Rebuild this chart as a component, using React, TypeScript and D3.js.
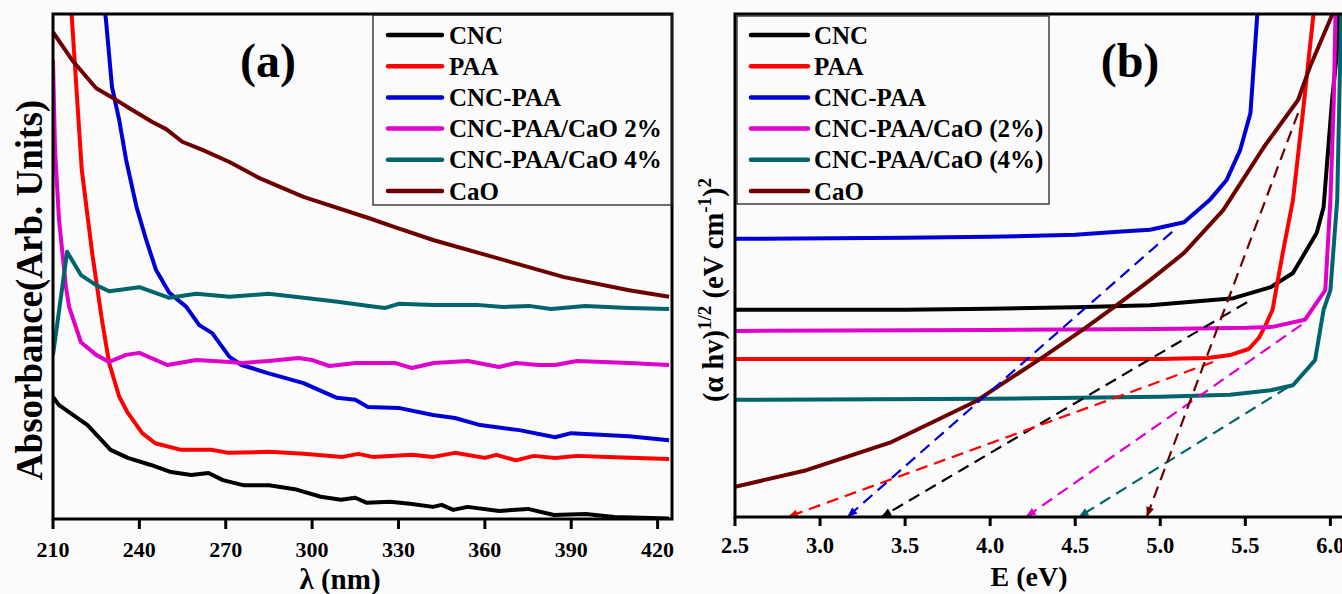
import React from 'react';
import * as d3 from 'd3';

type Pt = [number, number];

// legend labels and colours (same order in both panels)
const namesA = ['CNC', 'PAA', 'CNC-PAA', 'CNC-PAA/CaO 2%', 'CNC-PAA/CaO 4%', 'CaO'];
const namesB = ['CNC', 'PAA', 'CNC-PAA', 'CNC-PAA/CaO (2%)', 'CNC-PAA/CaO (4%)', 'CaO'];
const colors = ['#000000', '#ff0000', '#0000d6', '#e000cc', '#00646c', '#6e0000'];

const wlTicks = [210, 240, 270, 300, 330, 360, 390, 420];
const eTicks = [2.5, 3.0, 3.5, 4.0, 4.5, 5.0, 5.5, 6.0];

// (a) absorbance (arb. units) vs wavelength (nm)
const absCNC: Pt[] = [[210, 24.2], [212, 22.6], [222, 18.6], [230, 13.7], [236, 12.1], [244, 10.7], [251, 9.3], [258, 8.7], [264, 9.1], [269, 7.7], [276, 6.7], [285, 6.7], [294, 5.9], [303, 4.4], [310, 3.8], [315, 4.2], [319, 3.2], [327, 3.4], [334, 3.0], [342, 2.4], [345, 2.8], [349, 1.8], [354, 2.4], [365, 1.6], [375, 2.0], [384, 0.8], [395, 1.0], [405, 0.4], [424, 0.1]];
const absPAA: Pt[] = [[215, 112], [216.6, 98.8], [220, 69.1], [223.6, 52.7], [227, 39.4], [229.5, 30.9], [233, 24.2], [236, 21], [241, 17], [245.5, 15], [254.5, 13.7], [265, 13.7], [271, 13.1], [285, 13.3], [297, 12.9], [310.6, 12.3], [316, 12.9], [321, 12.3], [334.6, 12.7], [342, 12.3], [349.6, 13.1], [360, 12.1], [364, 12.7], [370.8, 11.6], [377, 12.5], [384.4, 12.1], [392, 12.5], [402.5, 12.3], [424, 11.9]];
const absCNCPAA: Pt[] = [[227, 105], [228.4, 98.8], [230.5, 85.5], [233, 79], [235.4, 71.1], [239, 61.8], [242.4, 55.2], [245.8, 49.3], [250.4, 44.8], [256.3, 42], [260.8, 38.4], [265.3, 36.8], [271.3, 32.1], [275.5, 30.5], [284.6, 28.9], [297, 26.9], [308.6, 24], [315, 23.6], [319.4, 22.2], [330, 22], [342, 20.6], [349.6, 20], [358.4, 18.6], [372, 17.6], [384.4, 16.2], [390, 17], [410, 16.4], [424, 15.6]];
const absCaO2: Pt[] = [[210, 90.9], [210.7, 73.1], [212.1, 59.2], [214.5, 45.9], [215.6, 42], [219.7, 35], [225, 32.5], [229.5, 31.1], [235.4, 32.5], [240, 32.9], [249.7, 30.5], [259.8, 31.5], [271.3, 31.1], [275.8, 30.9], [284.8, 31.3], [295.3, 31.9], [299.8, 31.5], [306, 30.3], [315.1, 30.9], [328.7, 30.9], [334.6, 29.9], [342.3, 30.9], [354.1, 31.3], [364.9, 30.1], [370.8, 30.9], [378.5, 30.5], [384.4, 30.5], [392, 31.3], [410.1, 30.9], [424, 30.5]];
const absCaO4: Pt[] = [[210, 32.5], [214.9, 52.9], [219.7, 48.3], [225, 46.3], [229.5, 45.1], [240, 45.9], [250.4, 43.8], [259.8, 44.6], [271.3, 44], [284.8, 44.6], [297, 43.8], [308.8, 43], [322.4, 42], [325.5, 41.8], [330, 42.6], [342.3, 42.4], [357.2, 42.4], [366.3, 42], [375.3, 42.2], [383, 41.6], [394.8, 42.2], [410.1, 41.8], [424, 41.6]];
const absCaO: Pt[] = [[210, 96.4], [216.6, 90.9], [225, 85.3], [231.9, 83], [236.4, 81.4], [244.5, 78.6], [249.3, 77.2], [254.9, 74.7], [261.9, 73.1], [271.3, 70.7], [281.7, 67.5], [297, 63.8], [319.6, 59.6], [328.7, 57.8], [342.3, 55.2], [360.3, 52.3], [387.5, 47.9], [410.1, 45.3], [424, 44]];

// (b) Tauc plot, (alpha h v)^(1/2) in arb. units vs photon energy (eV)
const taucCNC: Pt[] = [[2.5, 41.2], [3.5, 41.2], [4.0, 41.4], [4.5, 41.7], [4.94, 42.1], [5.43, 43.5], [5.65, 45.7], [5.78, 48.5], [5.92, 56.5], [5.96, 61.6], [6.01, 82.9], [6.04, 92.8], [6.06, 106.8]];
const taucPAA: Pt[] = [[2.5, 31.4], [5.0, 31.4], [5.28, 31.6], [5.41, 32.2], [5.52, 33.4], [5.58, 35.6], [5.62, 38.2], [5.66, 41.2], [5.72, 52.5], [5.78, 63], [5.84, 80.9], [5.9, 99.8], [5.92, 106.8]];
const taucCNCPAA: Pt[] = [[2.5, 55.3], [3.5, 55.5], [4.0, 55.7], [4.5, 56.1], [4.75, 56.7], [4.94, 57.1], [5.14, 58.6], [5.29, 63], [5.39, 67], [5.47, 73], [5.53, 80.3], [5.57, 99.8], [5.58, 106.8]];
const taucCaO2: Pt[] = [[2.5, 37], [4.0, 37.2], [5.0, 37.4], [5.51, 37.6], [5.66, 37.8], [5.85, 39.2], [5.97, 45.1], [6.0, 63], [6.02, 82.9], [6.03, 100], [6.04, 106.8]];
const taucCaO4: Pt[] = [[2.5, 23.3], [4.0, 23.5], [5.0, 23.9], [5.41, 24.3], [5.65, 25.2], [5.78, 26.2], [5.91, 31.2], [5.96, 41.2], [6.0, 45.1], [6.04, 63], [6.06, 94.8], [6.07, 106.8]];
const taucCaO: Pt[] = [[2.5, 6], [2.92, 9.3], [3.42, 14.9], [3.91, 22.9], [4.31, 31.8], [4.56, 37.6], [4.76, 42.5], [4.94, 47.1], [5.14, 52.5], [5.37, 61], [5.61, 73.6], [5.81, 82.9], [5.88, 89.5], [6.01, 99.8], [6.03, 104.8]];

// band-gap extrapolation lines: start point on the curve and intercept on E axis
const fitStartE = [5.51, 5.31, 5.07, 5.83, 5.75, 5.81];
const fitStartY = [42.7, 30.8, 56.7, 38.2, 25.8, 80.3];
const bandGap = [3.36, 2.81, 3.16, 4.21, 4.52, 4.92];

const seriesA = [absCNC, absPAA, absCNCPAA, absCaO2, absCaO4, absCaO];
const seriesB = [taucCNC, taucPAA, taucCNCPAA, taucCaO2, taucCaO4, taucCaO];

const font = '"Liberation Serif", "Times New Roman", serif';

export default function App() {
  const A = { left: 53, right: 672, top: 14, bottom: 519 };
  const B = { left: 735, right: 1344, top: 14, bottom: 517 };

  const xA = d3.scaleLinear().domain([210, 425]).range([A.left, A.right]);
  const yA = d3.scaleLinear().domain([0, 100]).range([A.bottom, A.top]);
  const xB = d3.scaleLinear().domain([2.5, 6.08]).range([B.left, B.right]);
  const yB = d3.scaleLinear().domain([0, 100]).range([B.bottom, B.top]);

  const lineA = d3.line<Pt>().x(d => xA(d[0])).y(d => yA(d[1]));
  const lineB = d3.line<Pt>().x(d => xB(d[0])).y(d => yB(d[1]));

  const rowY = (i: number) => 35 + i * 31.2;

  return (
    <svg width={1342} height={594} style={{ position: 'absolute', left: 0, top: 0, background: '#fbfbfb' }}
         fontFamily={font} fontWeight="bold">
      <defs>
        <clipPath id="clipA"><rect x={A.left} y={A.top} width={A.right - A.left} height={A.bottom - A.top} /></clipPath>
        <clipPath id="clipB"><rect x={B.left} y={B.top} width={B.right - B.left} height={B.bottom - B.top} /></clipPath>
        {colors.map((c, i) => (
          <marker key={i} id={'arr' + i} viewBox="0 -5 10 10" refX={10} refY={0}
                  markerWidth={12} markerHeight={10} markerUnits="userSpaceOnUse" orient="auto">
            <path d="M0,-4L10,0L0,4Z" fill={c} />
          </marker>
        ))}
      </defs>

      {/* ---------- panel (a) ---------- */}
      <g clipPath="url(#clipA)">
        {seriesA.map((s, i) => (
          <path key={i} d={lineA(s) || ''} fill="none" stroke={colors[i]} strokeWidth={4} strokeLinejoin="round" />
        ))}
      </g>
      <rect x={A.left} y={A.top} width={A.right - A.left} height={A.bottom - A.top} fill="none" stroke="#000" strokeWidth={3} />
      {wlTicks.map(t => (
        <g key={t}>
          <line x1={xA(t)} x2={xA(t)} y1={A.bottom} y2={A.bottom + 10} stroke="#000" strokeWidth={3} />
          <text x={xA(t)} y={A.bottom + 38} textAnchor="middle" fontSize={22}>{t}</text>
        </g>
      ))}
      <text x={340} y={589} textAnchor="middle" fontSize={29}>λ (nm)</text>
      <text transform="translate(42,290) rotate(-90)" textAnchor="middle" fontSize={37}>Absorbance(Arb. Units)</text>
      <text x={268} y={77} textAnchor="middle" fontSize={48}>(a)</text>

      <rect x={373} y={A.top + 1} width={A.right - 373} height={190} fill="none" stroke="#222" strokeWidth={1.3} />
      {namesA.map((n, i) => (
        <g key={n}>
          <line x1={388} x2={442} y1={rowY(i)} y2={rowY(i)} stroke={colors[i]} strokeWidth={4.5} strokeLinecap="round" />
          <text x={449} y={rowY(i) + 8.5} fontSize={25}>{n}</text>
        </g>
      ))}

      {/* ---------- panel (b) ---------- */}
      <g clipPath="url(#clipB)">
        {seriesB.map((s, i) => (
          <path key={i} d={lineB(s) || ''} fill="none" stroke={colors[i]} strokeWidth={4} strokeLinejoin="round" />
        ))}
      </g>
      {bandGap.map((g, i) => (
        <line key={i} x1={xB(fitStartE[i])} y1={yB(fitStartY[i])} x2={xB(g)} y2={yB(0)}
              stroke={colors[i]} strokeWidth={2.2} strokeDasharray="12,7" markerEnd={`url(#arr${i})`} />
      ))}
      <rect x={B.left} y={B.top} width={B.right - B.left} height={B.bottom - B.top} fill="none" stroke="#000" strokeWidth={3} />
      {eTicks.map(t => (
        <g key={t}>
          <line x1={xB(t)} x2={xB(t)} y1={B.bottom} y2={B.bottom + 9} stroke="#000" strokeWidth={3} />
          <text x={xB(t)} y={B.bottom + 36} textAnchor="middle" fontSize={22.5}>{d3.format('.1f')(t)}</text>
        </g>
      ))}
      <text x={1029} y={586} textAnchor="middle" fontSize={28}>E (eV)</text>
      <text transform="translate(723,290) rotate(-90)" textAnchor="middle" fontSize={28.5}>
        (α hv)<tspan dy={-12} fontSize={19}>1/2</tspan><tspan dy={12}> (eV cm</tspan><tspan dy={-12} fontSize={19}>-1</tspan><tspan dy={12}>)</tspan><tspan dy={-12} fontSize={19}>2</tspan>
      </text>
      <text x={1130} y={77} textAnchor="middle" fontSize={48}>(b)</text>

      <rect x={737} y={B.top + 2} width={312} height={188} fill="none" stroke="#222" strokeWidth={1.3} />
      {namesB.map((n, i) => (
        <g key={n}>
          <line x1={751} x2={808} y1={rowY(i)} y2={rowY(i)} stroke={colors[i]} strokeWidth={4.5} strokeLinecap="round" />
          <text x={814} y={rowY(i) + 8.5} fontSize={25}>{n}</text>
        </g>
      ))}
    </svg>
  );
}
